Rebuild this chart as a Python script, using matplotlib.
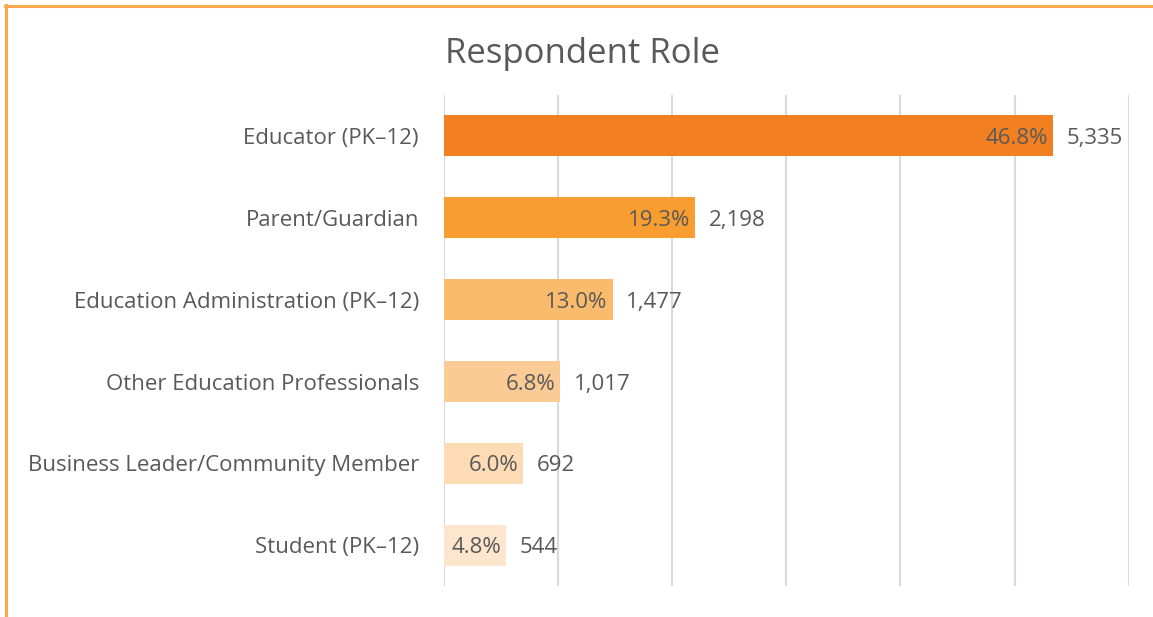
import matplotlib
matplotlib.use("Agg")
import matplotlib.pyplot as plt
from matplotlib.lines import Line2D

plt.rcParams['font.family'] = ['Open Sans', 'DejaVu Sans']

roles = ["Educator (PK\u201312)", "Parent/Guardian", "Education Administration (PK\u201312)",
         "Other Education Professionals", "Business Leader/Community Member", "Student (PK\u201312)"]
counts = [5335, 2198, 1477, 1017, 692, 544]
percents = [46.8, 19.3, 13.0, 6.8, 6.0, 4.8]
colors = ["#F28022", "#F89E31", "#FABB6D", "#FBCB95", "#FCDBB5", "#FDE6CD"]

text_color = "#595959"

fig = plt.figure(figsize=(11.53, 6.17), dpi=100)
ax = fig.add_axes([0.385, 0.050, 0.594, 0.796])

y = list(range(len(roles)))
ax.barh(y, counts, height=0.5, color=colors, zorder=3)
ax.set_ylim(len(roles) - 0.5, -0.5)
ax.set_xlim(0, 6000)
ax.set_xticks(range(0, 6001, 1000))
ax.set_xticklabels([])
ax.tick_params(axis='x', length=0)
ax.tick_params(axis='y', length=0, pad=18, labelsize=16, labelcolor=text_color)
ax.set_yticks(y)
ax.set_yticklabels(roles, va='center_baseline')
ax.grid(axis='x', color="#D9D9D9", linewidth=1.5, zorder=0)
for s in ax.spines.values():
    s.set_visible(False)

for i, (c, p) in enumerate(zip(counts, percents)):
    ax.annotate(f"{p:.1f}%", (c, i), xytext=(-3.5, 0), textcoords='offset points',
                ha='right', va='center_baseline', fontsize=16, color=text_color, zorder=4)
    ax.annotate(f"{c:,}", (c, i), xytext=(10, 0), textcoords='offset points',
                ha='left', va='center_baseline', fontsize=16, color=text_color, zorder=4)

fig.text(0.505, 0.913, "Respondent Role", ha='center', va='center',
         fontsize=25, color=text_color)

# orange frame (top and left edges only)
border = "#FFA94D"
fig.add_artist(Line2D([5 / 1153, 1], [1 - 6 / 617] * 2, color=border, linewidth=2.2,
                      transform=fig.transFigure))
fig.add_artist(Line2D([6 / 1153] * 2, [0, 1 - 5 / 617], color=border, linewidth=2.2,
                      transform=fig.transFigure))

fig.savefig("out.png", dpi=100)
